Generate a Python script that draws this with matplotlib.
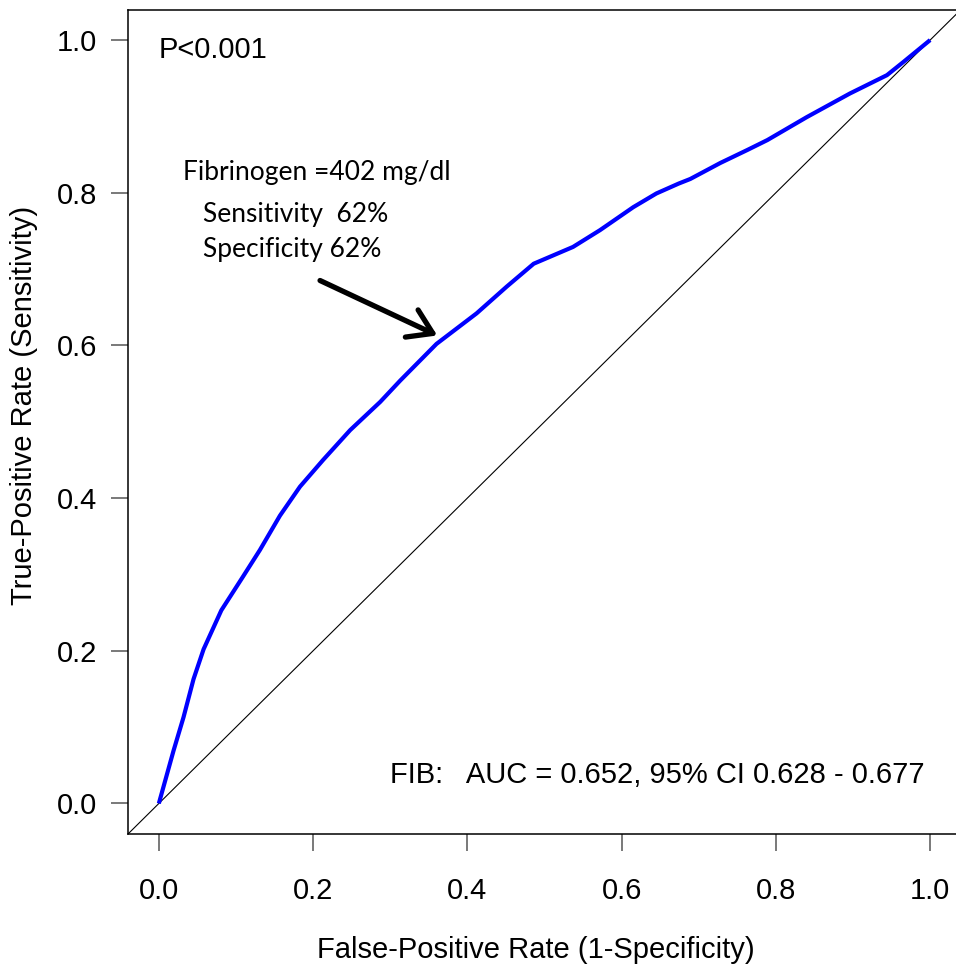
import matplotlib
matplotlib.use("Agg")
import matplotlib.pyplot as plt
import numpy as np

# ROC curve (false-positive rate, true-positive rate)
fpr = [0.0, 0.019, 0.032, 0.045, 0.058, 0.081, 0.109, 0.131, 0.157, 0.183,
       0.213, 0.248, 0.287, 0.313, 0.360, 0.412, 0.451, 0.486, 0.537, 0.572,
       0.615, 0.645, 0.674, 0.689, 0.728, 0.763, 0.789, 0.840, 0.896, 0.944,
       0.965, 1.0]
tpr = [0.0, 0.069, 0.113, 0.163, 0.202, 0.253, 0.297, 0.332, 0.377, 0.415,
       0.450, 0.489, 0.526, 0.554, 0.602, 0.642, 0.677, 0.707, 0.729, 0.751,
       0.781, 0.799, 0.812, 0.818, 0.839, 0.856, 0.869, 0.899, 0.930, 0.954,
       0.971, 1.0]

ticks = [0.0, 0.2, 0.4, 0.6, 0.8, 1.0]
tick_labels = ["0.0", "0.2", "0.4", "0.6", "0.8", "1.0"]

cutoff_lines = ["Fibrinogen =402 mg/dl", "Sensitivity  62%", "Specificity 62%"]
p_text = "P<0.001"
auc_text = "FIB:   AUC = 0.652, 95% CI 0.628 - 0.677"

plt.rcParams['font.family'] = ['Liberation Sans', 'DejaVu Sans']

fig = plt.figure(figsize=(9.56, 9.72), dpi=100)
ax = fig.add_axes([128 / 956, 1 - 834 / 972, 833 / 956, 824.5 / 972])

ax.plot(fpr, tpr, color='#0000ff', lw=3.0, solid_capstyle='butt',
        solid_joinstyle='round', zorder=3)
ax.axline((0, 0), (1, 1), color='black', lw=0.8, zorder=2)

ax.set_xlim(-0.04, 1.04)
ax.set_ylim(-0.04, 1.04)
ax.set_xticks(ticks)
ax.set_xticklabels(tick_labels)
ax.set_yticks(ticks)
ax.set_yticklabels(tick_labels)
ax.tick_params(axis='both', direction='out', length=12, width=1.1,
               color='#555555', labelsize=21)
ax.tick_params(axis='x', pad=19)
ax.tick_params(axis='y', pad=10)
for side in ['left', 'bottom', 'top', 'right']:
    ax.spines[side].set_linewidth(1.1)

ax.set_xlabel("False-Positive Rate (1-Specificity)", fontsize=21)
ax.set_ylabel("True-Positive Rate (Sensitivity)", fontsize=21, labelpad=14)
ax.xaxis.set_label_coords(0.490, -0.124)
ax.yaxis.label.set_y(0.520)

ax.text(0.0, 0.987, p_text, fontsize=21, ha='left', va='center')
ax.text(0.30, 0.037, auc_text, fontsize=21, ha='left', va='center')

anno_pos = [(0.031, 0.827), (0.057, 0.772), (0.057, 0.725)]
for (tx, ty), line in zip(anno_pos, cutoff_lines):
    ax.text(tx, ty, line, fontsize=19, ha='left', va='center',
            family=['Lato', 'DejaVu Sans'])

ax.annotate("", xy=(0.361, 0.613), xytext=(0.209, 0.685),
            arrowprops=dict(arrowstyle='->,head_length=0.7,head_width=0.45',
                            lw=3.8, color='black', mutation_scale=24,
                            shrinkA=0, shrinkB=0))

fig.savefig("out.png", dpi=100)
